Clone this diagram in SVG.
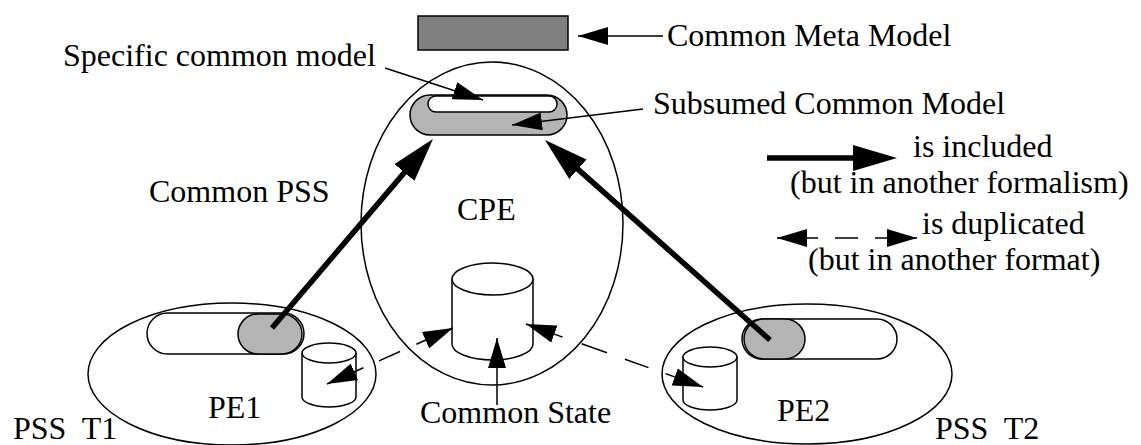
<svg xmlns="http://www.w3.org/2000/svg" width="1141" height="445" viewBox="0 0 1141 445">
  <style>
    text { font-family: "Liberation Serif", "Times New Roman", serif; font-size: 32px; fill: #000; white-space: pre; }
    .outline { fill: none; stroke: #000; stroke-width: 1.5; }
    .pill { fill: #fff; stroke: #000; stroke-width: 1.5; }
    .pill-gray { fill: #b4b4b4; stroke: #000; stroke-width: 1.5; }
    .drum { fill: #fff; stroke: #000; stroke-width: 1.5; }
    .thin { fill: none; stroke: #000; stroke-width: 1.5; }
    .thick { fill: none; stroke: #000; stroke-width: 5.5; }
  </style>
  <defs>
    <marker id="head" viewBox="0 0 30 18" refX="30" refY="9" markerWidth="30" markerHeight="18" markerUnits="userSpaceOnUse" orient="auto-start-reverse">
      <path d="M0,0 L30,9 L0,18 Z" fill="#000"/>
    </marker>
    <marker id="head-big" viewBox="0 0 44 26" refX="34" refY="13" markerWidth="44" markerHeight="26" markerUnits="userSpaceOnUse" orient="auto">
      <path d="M0,0 L44,13 L0,26 Z" fill="#000"/>
    </marker>
  </defs>

  <!-- meta model -->
  <g id="meta-model">
    <rect x="418" y="16" width="150" height="34" fill="#808080" stroke="#000" stroke-width="1.5"/>
  </g>

  <!-- common processing environment -->
  <g id="cpe">
    <ellipse class="outline" cx="492" cy="223.5" rx="131" ry="161.5"/>
    <rect class="pill-gray" x="410" y="95" width="157" height="40" rx="20" ry="20"/>
    <rect class="pill" x="428" y="96" width="129" height="16" rx="8" ry="8"/>
    <path class="drum" d="M452,279 L452,344 A40.5,16 0 0 0 533,344 L533,279"/>
    <ellipse class="drum" cx="492.5" cy="279" rx="40.5" ry="16"/>
  </g>

  <!-- processing environment 1 -->
  <g id="pe1">
    <ellipse class="outline" cx="232" cy="374" rx="144" ry="71"/>
    <rect class="pill" x="147" y="313" width="157" height="41" rx="20.5" ry="20.5"/>
    <rect class="pill-gray" x="238" y="314" width="64" height="40" rx="20" ry="20"/>
    <path class="drum" d="M302,353 L302,397 A27,10 0 0 0 356,397 L356,353"/>
    <ellipse class="drum" cx="329" cy="353" rx="27" ry="10"/>
  </g>

  <!-- processing environment 2 -->
  <g id="pe2">
    <ellipse class="outline" cx="807" cy="374" rx="145" ry="70"/>
    <rect class="pill" x="742" y="319" width="155" height="40" rx="20" ry="20"/>
    <rect class="pill-gray" x="744" y="319" width="61" height="40" rx="20" ry="20"/>
    <path class="drum" d="M683,357 L683,400 A27,10 0 0 0 737,400 L737,357"/>
    <ellipse class="drum" cx="710" cy="357" rx="27" ry="10"/>
  </g>

  <!-- connectors -->
  <g id="connectors">
    <line class="thin" x1="663" y1="36" x2="578" y2="36" marker-end="url(#head)"/>
    <line class="thin" x1="385" y1="68" x2="483" y2="100" marker-end="url(#head)"/>
    <line class="thin" x1="643" y1="109" x2="512" y2="125" marker-end="url(#head)"/>
    <line class="thin" x1="497" y1="405" x2="497" y2="338" marker-end="url(#head)"/>
    <line class="thick" x1="272" y1="328" x2="426.5" y2="146.6" marker-end="url(#head-big)"/>
    <line class="thick" x1="770" y1="340" x2="552.5" y2="146.6" marker-end="url(#head-big)"/>
    <path class="thin" d="M453,328 L416.4,344.2 M400,351.5 L379,360.9 M363.4,367.8 L327,384" marker-start="url(#head)" marker-end="url(#head)"/>
    <path class="thin" d="M526,324 L562.7,337.1 M581.6,343.8 L607,352.8 M624.9,359.2 L648.5,367.6 M665.4,373.6 L703,387" marker-start="url(#head)" marker-end="url(#head)"/>
  </g>

  <!-- legend -->
  <g id="legend">
    <line class="thick" x1="767" y1="158" x2="887" y2="158" marker-end="url(#head-big)"/>
    <path class="thin" d="M777,238 L818,238 M835,238 L858,238 M875,238 L917,238" marker-start="url(#head)" marker-end="url(#head)"/>
    <text x="913" y="157">is included</text>
    <text x="790" y="193">(but in another formalism)</text>
    <text x="922" y="234">is duplicated</text>
    <text x="808" y="270">(but in another format)</text>
  </g>

  <!-- labels -->
  <g id="labels">
    <text x="667" y="46">Common Meta Model</text>
    <text x="63" y="66">Specific common model</text>
    <text x="653" y="114">Subsumed Common Model</text>
    <text x="149" y="202">Common PSS</text>
    <text x="457" y="220">CPE</text>
    <text x="420" y="423">Common State</text>
    <text x="208" y="418">PE1</text>
    <text x="777" y="421">PE2</text>
    <text x="13" y="439">PSS  T1</text>
    <text x="935" y="439">PSS  T2</text>
  </g>
</svg>
